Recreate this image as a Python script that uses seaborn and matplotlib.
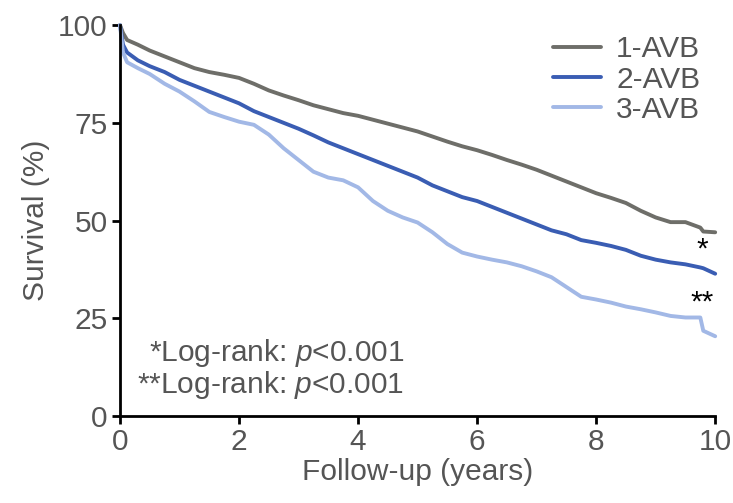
import matplotlib
matplotlib.use("Agg")
import matplotlib.pyplot as plt
import seaborn as sns
import pandas as pd

years = [0, 0.05, 0.12, 0.3, 0.5, 0.75, 1.0, 1.25, 1.5, 1.75, 2.0, 2.25, 2.5, 2.75,
         3.0, 3.25, 3.5, 3.75, 4.0, 4.25, 4.5, 4.75, 5.0, 5.25, 5.5, 5.75, 6.0, 6.25,
         6.5, 6.75, 7.0, 7.25, 7.5, 7.75, 8.0, 8.25, 8.5, 8.75, 9.0, 9.25, 9.5, 9.75,
         9.8, 10.0]
avb1 = [100, 98, 96.2, 95, 93.5, 92, 90.5, 89, 88, 87.3, 86.5, 85, 83.3, 82,
        80.8, 79.5, 78.5, 77.5, 76.8, 75.8, 74.8, 73.8, 72.8, 71.5, 70.2, 69, 68, 66.8,
        65.5, 64.3, 63, 61.5, 60, 58.5, 57, 55.8, 54.5, 52.5, 50.8, 49.6, 49.6, 48.2,
        47.2, 47]
avb2 = [100, 95, 93, 91, 89.5, 88, 86, 84.5, 83, 81.5, 80, 78, 76.5, 75,
        73.5, 71.8, 70, 68.5, 67, 65.5, 64, 62.5, 61, 59, 57.5, 56, 55, 53.5,
        52, 50.5, 49, 47.5, 46.5, 45, 44.3, 43.5, 42.5, 41, 40, 39.3, 38.8, 38,
        37.8, 36.4]
avb3 = [100, 93, 90.5, 89, 87.5, 85, 83, 80.5, 77.8, 76.5, 75.3, 74.5, 72, 68.5,
        65.5, 62.5, 61, 60.3, 58.5, 55, 52.5, 50.8, 49.5, 47, 44, 41.8, 40.8, 40,
        39.3, 38.3, 37, 35.5, 33, 30.5, 29.8, 29, 28, 27.3, 26.5, 25.6, 25.2, 25.2,
        21.8, 20.4]
groups = ["1-AVB", "2-AVB", "3-AVB"]
colors = ["#6e6e69", "#3a5db3", "#a2b8e6"]

df = pd.DataFrame({
    "t": years * 3,
    "s": avb1 + avb2 + avb3,
    "g": [groups[0]] * len(years) + [groups[1]] * len(years) + [groups[2]] * len(years),
})

sns.set_style("ticks")
plt.rcParams["font.family"] = ["Liberation Sans", "DejaVu Sans"]
plt.rcParams["mathtext.fontset"] = "custom"
plt.rcParams["mathtext.it"] = "Liberation Sans:italic"
plt.rcParams["mathtext.rm"] = "Liberation Sans"

FS = 21.5
fig = plt.figure(figsize=(7.33, 5.03), dpi=100)
ax = fig.add_axes([0.1637, 0.173, 0.812, 0.777])
sns.lineplot(data=df, x="t", y="s", hue="g", palette=dict(zip(groups, colors)),
             linewidth=2.8, ax=ax, legend=True, clip_on=False)

ax.set_xlim(0, 10)
ax.set_ylim(0, 100)
ax.set_xticks([0, 2, 4, 6, 8, 10])
ax.set_yticks([0, 25, 50, 75, 100])
tc = "#555555"
ax.tick_params(axis="both", labelsize=FS, labelcolor=tc, color="black",
               width=2, length=6, direction="out", pad=3)
for s in ["left", "bottom"]:
    ax.spines[s].set_linewidth(2)
    ax.spines[s].set_color("black")
for s in ["top", "right"]:
    ax.spines[s].set_visible(False)
ax.set_xlabel("Follow-up (years)", fontsize=FS, color=tc, labelpad=1)
ax.set_ylabel("Survival (%)", fontsize=FS, color=tc, labelpad=6)

leg = ax.legend(loc="upper right", frameon=False, fontsize=FS, handlelength=1.6,
                handletextpad=0.5, labelspacing=0.08, borderaxespad=0.0,
                bbox_to_anchor=(0.995, 1.005))
for t in leg.get_texts():
    t.set_color(tc)
for h in leg.get_lines():
    h.set_linewidth(2.8)

ax.text(9.78, 42.5, "*", fontsize=FS, ha="center", va="center", color="black")
ax.text(9.78, 29.0, "**", fontsize=FS, ha="center", va="center", color="black")
ax.text(4.78, 16, r"*Log-rank: $\mathit{p}$<0.001", fontsize=FS, ha="right",
        va="center", color=tc)
ax.text(4.78, 8, r"**Log-rank: $\mathit{p}$<0.001", fontsize=FS, ha="right",
        va="center", color=tc)

fig.savefig("out.png", dpi=100)
